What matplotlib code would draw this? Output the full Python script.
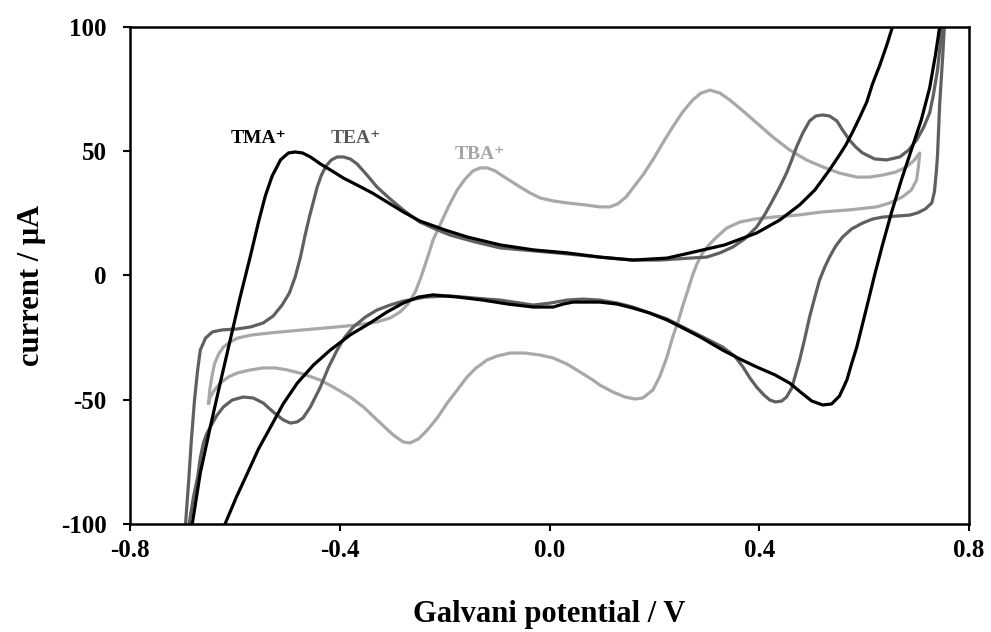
import matplotlib
matplotlib.use('Agg')
import matplotlib.pyplot as plt

plt.rcParams['font.family'] = ['Liberation Serif', 'DejaVu Serif']
plt.rcParams['font.weight'] = 'bold'
plt.rcParams['axes.unicode_minus'] = False

# TMA+ (black) - potential / V, current / uA
tma_E = [-0.622, -0.618, -0.597, -0.576, -0.555, -0.532, -0.508, -0.481, -0.450, -0.418,
         -0.380, -0.342, -0.310, -0.279, -0.250, -0.222, -0.174, -0.127, -0.079, -0.031,
         0.007, 0.026, 0.045, 0.096, 0.129, 0.159, 0.191, 0.224, 0.254, 0.287,
         0.330, 0.363, 0.395, 0.430, 0.458, 0.481, 0.500, 0.521, 0.538, 0.553,
         0.567, 0.576, 0.586, 0.605, 0.620, 0.635, 0.652, 0.671, 0.690, 0.709,
         0.725, 0.736, 0.744, 0.746,
         0.656, 0.654, 0.643, 0.630, 0.616, 0.605, 0.591, 0.578, 0.565, 0.553,
         0.534, 0.506, 0.477, 0.439, 0.395, 0.334, 0.268, 0.224, 0.159, 0.096,
         0.033, -0.031, -0.094, -0.157, -0.199, -0.247, -0.279, -0.310, -0.338, -0.367,
         -0.393, -0.418, -0.437, -0.456, -0.471, -0.485, -0.498, -0.513, -0.529, -0.542,
         -0.555, -0.570, -0.590, -0.609, -0.628, -0.647, -0.666, -0.681, -0.683]
tma_I = [-102.4, -99.6, -89.1, -79.5, -69.8, -61.0, -51.7, -43.3, -36.0, -30.0,
         -23.9, -19.1, -14.7, -11.1, -8.7, -7.8, -8.7, -9.9, -11.5, -12.7,
         -12.7, -11.5, -10.7, -10.7, -11.5, -13.1, -15.1, -17.9, -21.1, -24.7,
         -30.0, -33.6, -36.8, -40.0, -43.3, -47.3, -50.5, -52.1, -51.7, -48.5,
         -42.1, -35.6, -28.8, -12.7, 0.2, 12.3, 25.2, 38.4, 50.5, 62.6,
         75.5, 88.7, 100, 104,
         104, 100, 92.6, 84.7, 77.1, 69.8, 63.4, 57.7, 52.5, 48.5,
         42.5, 34.4, 28.4, 22.3, 17.1, 12.3, 9.1, 7.0, 6.2, 7.4,
         9.1, 10.3, 12.3, 15.5, 18.3, 21.9, 25.6, 29.6, 33.2, 36.4,
         39.2, 42.5, 44.9, 47.7, 49.3, 49.7, 49.3, 46.5, 40.0, 32.0,
         21.5, 8.2, -8.7, -26.0, -43.3, -61.0, -79.5, -99.6, -102.4]

# TEA+ (dark grey)
tea_E = [-0.689, -0.687, -0.679, -0.671, -0.666, -0.660, -0.654, -0.647, -0.635, -0.622,
         -0.605, -0.584, -0.565, -0.546, -0.527, -0.508, -0.494, -0.481, -0.470, -0.456,
         -0.437, -0.422, -0.405, -0.390, -0.374, -0.351, -0.329, -0.304, -0.279, -0.237,
         -0.190, -0.142, -0.094, -0.031, 0.001, 0.033, 0.064, 0.096, 0.129, 0.159,
         0.191, 0.224, 0.254, 0.292, 0.330, 0.353, 0.369, 0.382, 0.395, 0.409,
         0.420, 0.431, 0.443, 0.452, 0.462, 0.469, 0.477, 0.487, 0.496, 0.506,
         0.515, 0.525, 0.534, 0.546, 0.559, 0.576, 0.597, 0.616, 0.635, 0.662,
         0.687, 0.702, 0.717, 0.729, 0.734, 0.738, 0.740, 0.744, 0.750, 0.753,
         0.755,
         0.746, 0.748, 0.744, 0.740, 0.732, 0.725, 0.713, 0.700, 0.685, 0.668,
         0.643, 0.620, 0.597, 0.584, 0.572, 0.559, 0.548, 0.534, 0.521, 0.508,
         0.496, 0.483, 0.471, 0.462, 0.452, 0.439, 0.426, 0.411, 0.395, 0.372,
         0.350, 0.325, 0.300, 0.268, 0.210, 0.159, 0.096, 0.033, -0.031, -0.094,
         -0.142, -0.190, -0.218, -0.247, -0.266, -0.279, -0.304, -0.329, -0.348, -0.367,
         -0.380, -0.393, -0.405, -0.416, -0.426, -0.435, -0.443, -0.450, -0.458, -0.466,
         -0.475, -0.485, -0.496, -0.510, -0.527, -0.546, -0.570, -0.595, -0.624, -0.643,
         -0.656, -0.666, -0.671, -0.677, -0.683, -0.688, -0.694, -0.696]
tea_I = [-104, -99.6, -89.1, -81.1, -73.4, -67.4, -63.8, -61.0, -56.5, -52.9,
         -50.1, -48.9, -49.3, -51.3, -54.9, -58.1, -59.4, -58.9, -57.3, -52.9,
         -44.9, -37.2, -30.0, -24.7, -20.7, -16.7, -13.9, -11.9, -10.3, -8.7,
         -8.2, -9.1, -9.9, -11.9, -11.1, -9.9, -9.5, -9.9, -11.1, -12.7,
         -15.1, -17.5, -20.7, -24.7, -28.8, -32.4, -36.8, -41.2, -44.9, -48.1,
         -50.1, -50.9, -50.5, -48.9, -45.3, -40.0, -34.0, -25.2, -16.7, -8.7,
         -1.8, 3.4, 7.4, 11.9, 15.5, 18.7, 21.1, 22.7, 23.5, 23.9,
         24.3, 25.2, 26.8, 29.2, 33.6, 42.5, 48.5, 68.6, 88.7, 100,
         104,
         104, 100, 90.7, 82.7, 72.6, 65.4, 59.4, 54.5, 50.5, 47.7,
         46.5, 46.9, 49.3, 51.7, 54.5, 58.5, 62.2, 64.2, 64.6, 64.2,
         62.2, 57.3, 51.7, 46.5, 41.2, 35.6, 30.4, 24.7, 19.5, 14.7,
         11.5, 9.1, 7.4, 7.0, 6.2, 6.2, 7.4, 8.7, 9.9, 11.1,
         13.5, 16.3, 18.7, 21.5, 24.3, 26.4, 30.8, 35.6, 40.4, 44.9,
         46.9, 47.7, 47.7, 46.5, 44.1, 40.4, 35.6, 30.0, 23.5, 16.3,
         7.4, -0.6, -7.0, -11.9, -16.3, -19.1, -20.7, -21.5, -21.9, -22.7,
         -25.2, -30.0, -38.0, -50.1, -66.2, -82.3, -99.6, -103.6]

# TBA+ (light grey)
tba_E = [-0.650, -0.648, -0.644, -0.639, -0.631, -0.622, -0.609, -0.595, -0.570, -0.532,
         -0.470, -0.405, -0.367, -0.329, -0.304, -0.285, -0.270, -0.256, -0.245, -0.233,
         -0.222, -0.209, -0.193, -0.176, -0.161, -0.146, -0.132, -0.119, -0.104, -0.089,
         -0.071, -0.056, -0.037, -0.018, 0.007, 0.033, 0.068, 0.096, 0.115, 0.130,
         0.146, 0.159, 0.178, 0.197, 0.216, 0.235, 0.254, 0.273, 0.289, 0.306,
         0.325, 0.344, 0.369, 0.395, 0.426, 0.458, 0.490, 0.521, 0.553, 0.586,
         0.610, 0.635, 0.660, 0.681, 0.696, 0.706,
         0.704, 0.700, 0.690, 0.673, 0.649, 0.624, 0.572, 0.521, 0.473, 0.426,
         0.391, 0.363, 0.338, 0.319, 0.304, 0.292, 0.281, 0.273, 0.264, 0.254,
         0.245, 0.235, 0.224, 0.210, 0.197, 0.178, 0.163, 0.144, 0.121, 0.096,
         0.083, 0.058, 0.033, 0.007, -0.018, -0.047, -0.075, -0.100, -0.119, -0.140,
         -0.157, -0.176, -0.195, -0.214, -0.233, -0.250, -0.266, -0.279, -0.298, -0.329,
         -0.355, -0.380, -0.409, -0.437, -0.470, -0.500, -0.523, -0.546, -0.570, -0.595,
         -0.612, -0.628, -0.639, -0.647, -0.650]
tba_I = [-51.3, -46.1, -40.8, -35.6, -31.6, -28.8, -26.8, -25.2, -24.0, -23.1,
         -21.9, -20.7, -19.9, -18.7, -17.1, -14.7, -11.5, -6.6, -0.6, 7.0,
         14.3, 20.3, 27.6, 34.4, 38.8, 42.1, 43.3, 43.3, 42.1, 40.0,
         37.6, 35.6, 33.2, 31.2, 30.0, 29.2, 28.4, 27.6, 27.6, 28.8,
         31.6, 35.2, 40.4, 46.5, 53.3, 59.8, 65.8, 70.6, 73.4, 74.6,
         73.4, 70.6, 66.2, 61.4, 55.7, 50.5, 46.5, 43.7, 41.2, 39.6,
         39.6, 40.4, 41.6, 43.7, 46.5, 49.3,
         44.5, 38.4, 34.4, 31.6, 29.2, 27.6, 26.4, 25.6, 24.3, 23.5,
         22.7, 21.5, 19.1, 15.5, 12.3, 9.1, 4.6, 0.2, -5.8, -12.3,
         -18.7, -24.7, -32.8, -40.8, -46.1, -49.3, -49.7, -48.9, -46.9, -44.1,
         -42.1, -38.8, -35.6, -33.2, -32.0, -31.2, -31.2, -32.4, -34.0, -37.2,
         -40.8, -46.1, -51.3, -57.3, -62.2, -65.8, -67.4, -67.0, -64.2, -58.1,
         -52.9, -48.9, -45.3, -42.1, -39.6, -38.0, -37.2, -37.2, -38.0, -39.2,
         -40.8, -43.3, -46.1, -48.9, -51.3]

fig = plt.figure(figsize=(9.91, 6.32), dpi=100)
ax = fig.add_axes([0.1312, 0.1709, 0.8466, 0.7864])

ax.plot(tba_E, tba_I, color='#a8a8a8', lw=2.3, solid_joinstyle='round')
ax.plot(tea_E, tea_I, color='#606060', lw=2.3, solid_joinstyle='round')
ax.plot(tma_E, tma_I, color='#000000', lw=2.3, solid_joinstyle='round')

ax.text(-0.555, 55.3, 'TMA\u207a', color='#000000', fontsize=14, fontweight='bold', ha='center', va='center')
ax.text(-0.370, 55.3, 'TEA\u207a', color='#595959', fontsize=14, fontweight='bold', ha='center', va='center')
ax.text(-0.133, 48.5, 'TBA\u207a', color='#a6a6a6', fontsize=14, fontweight='bold', ha='center', va='center')

ax.set_xlim(-0.8, 0.8)
ax.set_ylim(-100, 100)
ax.set_xticks([-0.8, -0.4, 0.0, 0.4, 0.8])
ax.set_xticklabels(['-0.8', '-0.4', '0.0', '0.4', '0.8'])
ax.set_yticks([-100, -50, 0, 50, 100])
ax.tick_params(direction='out', length=5, width=1.5, labelsize=18)
ax.tick_params(axis='x', pad=6)
ax.tick_params(axis='y', pad=12)
for s in ax.spines.values():
    s.set_linewidth(1.8)

ax.set_xlabel('Galvani potential / V', fontsize=22, fontweight='bold', labelpad=27)
ax.set_ylabel('current / \u03bcA', fontsize=22, fontweight='bold')
ax.yaxis.set_label_coords(-0.10, 0.48)

fig.savefig('out.png', dpi=100)
